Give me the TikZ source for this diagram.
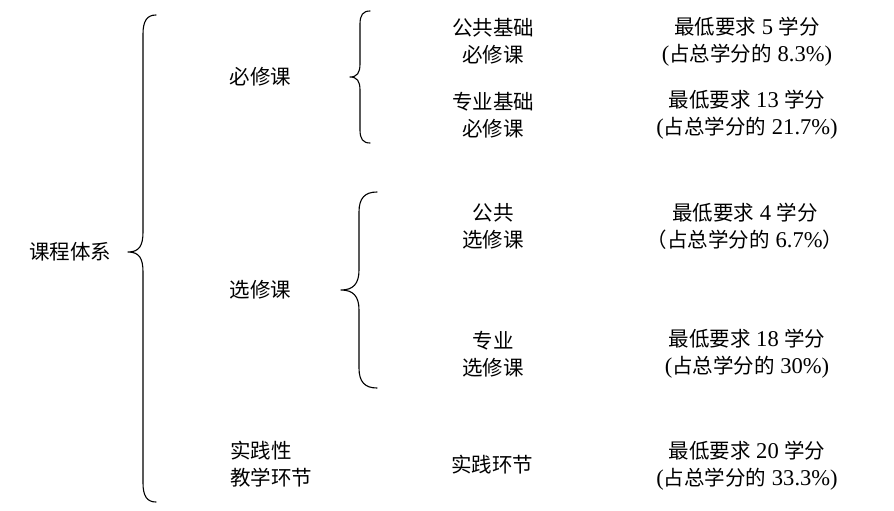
\documentclass[tikz,border=0pt]{standalone}
\usepackage{fontspec}
\setmainfont{Liberation Serif}[Scale=1.1]
\newfontfamily\cjk{Noto Sans CJK SC}
\newcommand{\zh}[1]{{\cjk #1}}
\begin{document}
\begin{tikzpicture}[x=1pt,y=-1pt,
  lbl/.style={inner sep=0pt,align=center,font=\fontsize{20.5}{27}\selectfont},
  brace/.style={line width=1.1pt,line cap=round,line join=round}]
\useasboundingbox (0,0) rectangle (894,511);
% left
\node[lbl] (root) at (70,252) {\zh{课程体系}};
\node[lbl] (bx) at (260.5,77) {\zh{必修课}};
\node[lbl] (xx) at (260.5,290) {\zh{选修课}};
\node[lbl,align=left,anchor=west] (sj) at (230,464) {\zh{实践性}\\\zh{教学环节}};
% middle
\node[lbl] (m1) at (493,41) {\zh{公共基础}\\\zh{必修课}};
\node[lbl] (m2) at (493,115) {\zh{专业基础}\\\zh{必修课}};
\node[lbl] (m3) at (493,226) {\zh{公共}\\\zh{选修课}};
\node[lbl] (m4) at (493,354) {\zh{专业}\\\zh{选修课}};
\node[lbl] (m5) at (492,465) {\zh{实践环节}};
% right
\node[lbl] (r1) at (747,42) {\zh{最低要求} 5 \zh{学分}\\(\zh{占总学分的} 8.3\%)};
\node[lbl] (r2) at (747,115) {\zh{最低要求} 13 \zh{学分}\\(\zh{占总学分的} 21.7\%)};
\node[lbl] (r3) at (745,226) {\zh{最低要求} 4 \zh{学分}\\\zh{（占总学分的} 6.7\%\zh{）}};
\node[lbl] (r4) at (747,354) {\zh{最低要求} 18 \zh{学分}\\(\zh{占总学分的} 30\%)};
\node[lbl] (r5) at (747,466) {\zh{最低要求} 20 \zh{学分}\\(\zh{占总学分的} 33.3\%)};
% big brace
\draw[brace] (156,15) .. controls (147,15) and (143,21) .. (143,34)
  -- (143,232) .. controls (143,246) and (139,252) .. (128,252)
  .. controls (139,252) and (143,258) .. (143,272)
  -- (143,483) .. controls (143,496) and (147,502) .. (156,502);
% brace 2
\draw[brace] (370,11) .. controls (363,11) and (360,15) .. (360,24)
  -- (360,64) .. controls (360,73) and (357,77) .. (350,77)
  .. controls (357,77) and (360,81) .. (360,90)
  -- (360,130) .. controls (360,139) and (363,143) .. (370,143);
% brace 3
\draw[brace] (377,192) .. controls (365,192) and (359,198) .. (359,212)
  -- (359,270) .. controls (359,284) and (353,290) .. (341,290)
  .. controls (353,290) and (359,296) .. (359,310)
  -- (359,368) .. controls (359,382) and (365,388) .. (377,388);
\end{tikzpicture}
\end{document}
